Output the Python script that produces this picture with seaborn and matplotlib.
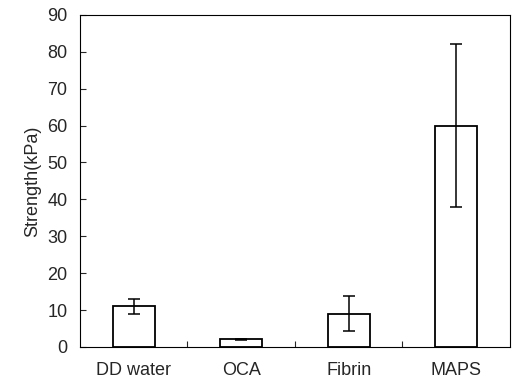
import pandas as pd
import seaborn as sns
import matplotlib.pyplot as plt
from matplotlib.ticker import FixedLocator

# bar values
groups = ["DD water", "OCA", "Fibrin", "MAPS"]
strength = [11.0, 2.1, 9.0, 60.0]
err = [2.0, 0.15, 4.8, 22.0]

df = pd.DataFrame({"group": groups, "strength": strength, "err": err})

sns.set_style("ticks")
plt.rcParams['font.family'] = ['Liberation Sans', 'DejaVu Sans']

fig = plt.figure(figsize=(5.12, 3.92), dpi=100)
ax = fig.add_axes([0.156, 0.115, 0.84, 0.847])

sns.barplot(data=df, x="group", y="strength", color="white", edgecolor="black",
            linewidth=1.3, width=0.39, errorbar=None, ax=ax)
ax.errorbar(range(len(groups)), df["strength"], yerr=df["err"], fmt="none",
            ecolor="black", elinewidth=1.1, capsize=4, capthick=1.1)

ax.set_xlim(-0.5, 3.5)
ax.set_ylim(0, 90)
ax.set_yticks(range(0, 91, 10))
ax.set_xlabel("")
ax.set_ylabel("Strength(kPa)", fontsize=13)

for s in ax.spines.values():
    s.set_visible(True)
    s.set_color("black")
    s.set_linewidth(0.8)

ax.tick_params(axis="y", direction="in", length=4, width=0.8, labelsize=13, pad=9)
ax.tick_params(axis="x", which="major", length=0, labelsize=13, pad=11)
ax.xaxis.set_minor_locator(FixedLocator([0.5, 1.5, 2.5]))
ax.tick_params(axis="x", which="minor", direction="in", length=4, width=0.8)

fig.savefig("out.png", dpi=100)
